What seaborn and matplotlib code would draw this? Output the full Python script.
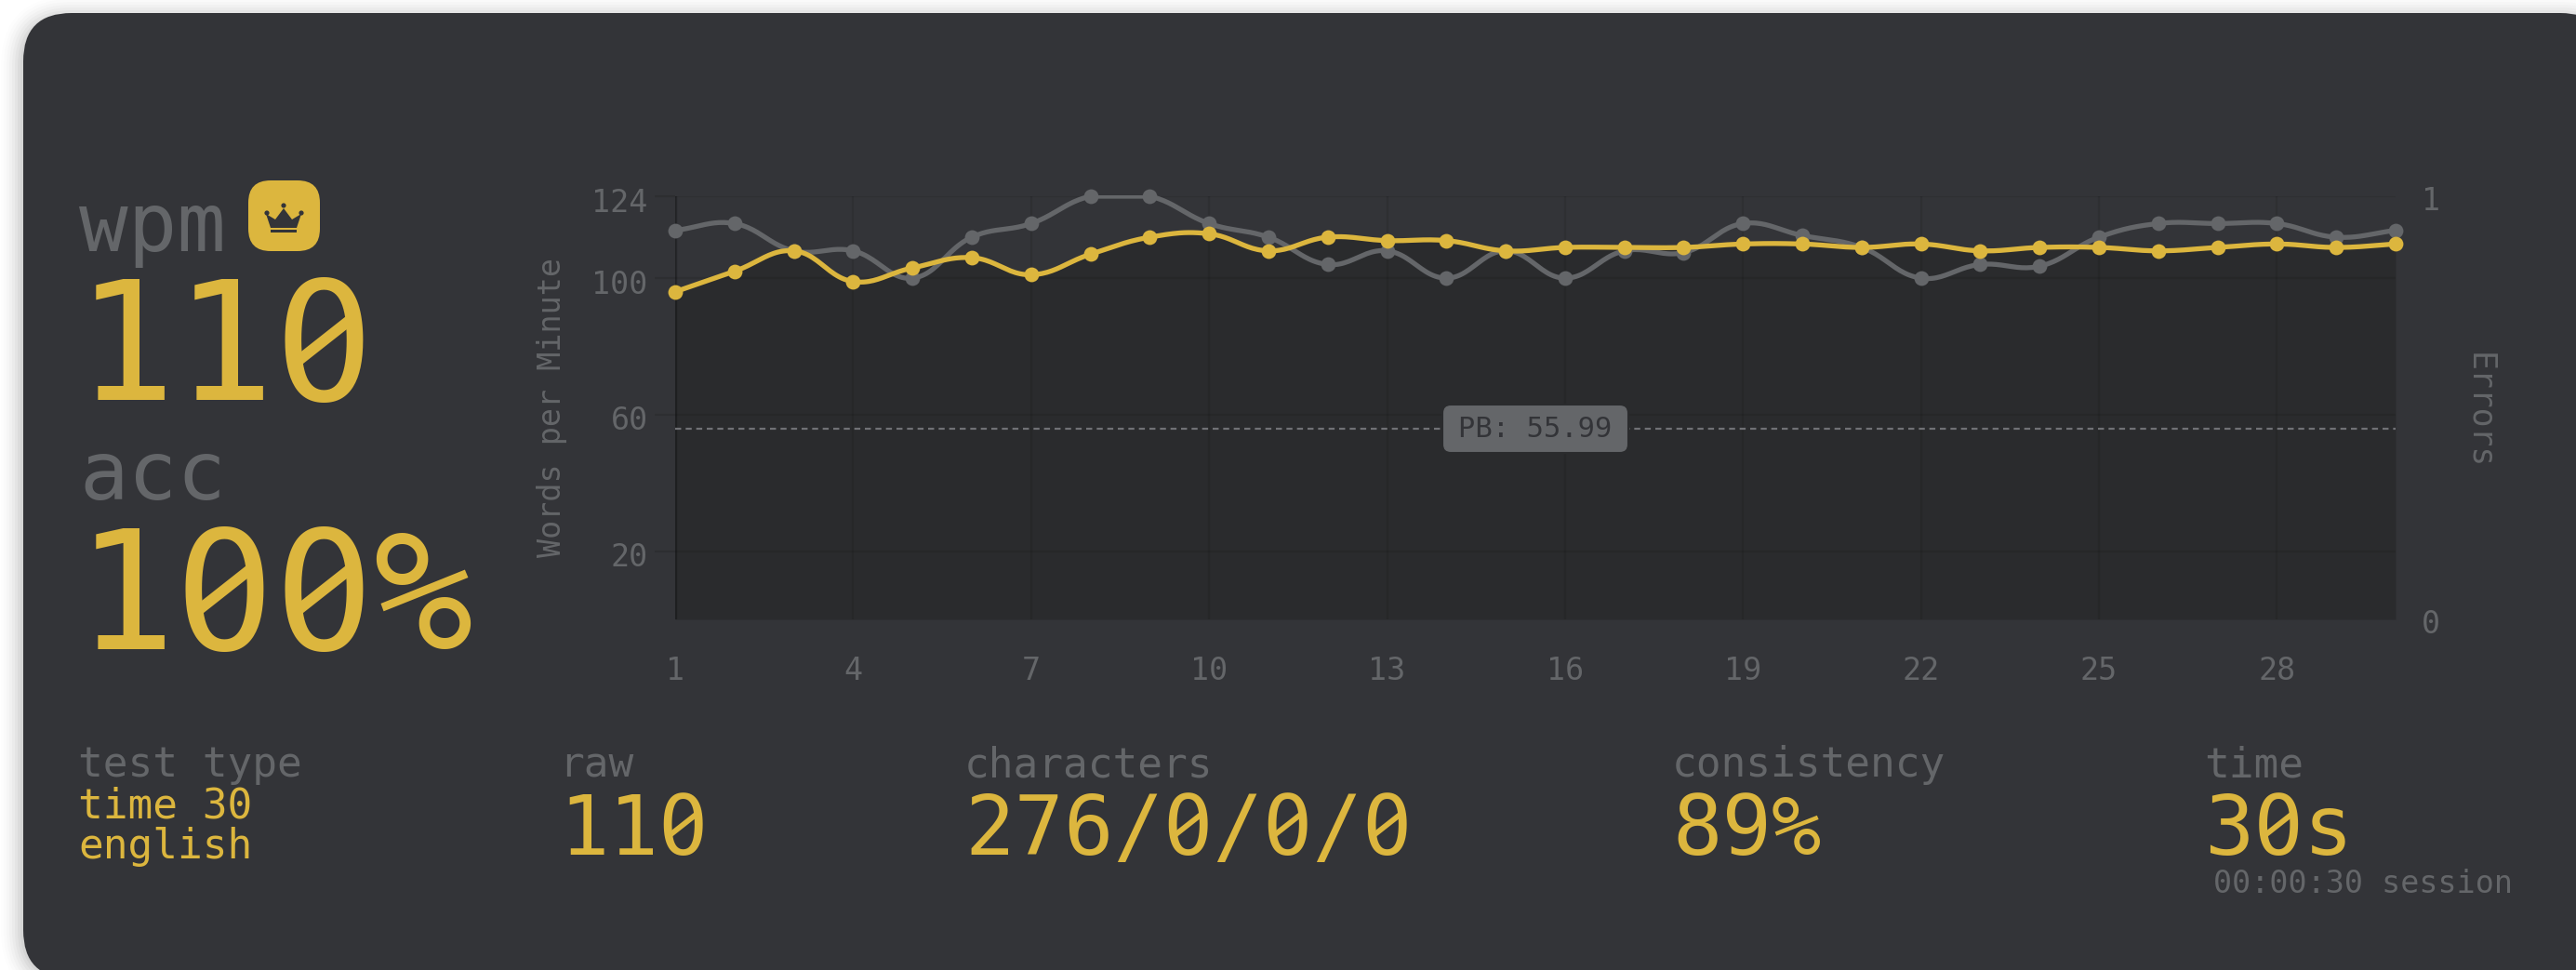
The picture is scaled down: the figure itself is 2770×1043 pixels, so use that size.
import numpy as np
import pandas as pd
import matplotlib
matplotlib.use("Agg")
import matplotlib.pyplot as plt
from matplotlib.patches import FancyBboxPatch, Polygon, Circle, Rectangle, Ellipse
from matplotlib.transforms import Bbox, ScaledTranslation
import seaborn as sns

seconds = list(range(1, 31))
raw_wpm = [114, 116, 108, 108, 100, 112, 116, 124, 124, 116, 112, 104, 108, 100, 108,
           100, 108, 107.5, 116, 112.5, 109, 100, 104, 103.5, 112, 116, 116, 116, 112, 114]
wpm = [96, 102, 108, 99, 103, 106, 101, 107, 112, 113, 108, 112, 111, 111, 108,
       109, 109, 109, 110, 110, 109, 110, 108, 109, 109, 108, 109, 110, 109, 110]
pb_value = 55.99
y_ticks = [20, 60, 100, 124]
x_ticks = list(range(1, 29, 3))

W, H = 2770, 1043
MONO = "DejaVu Sans Mono"
PANEL = "#333438"
PLOT = "#2a2b2d"
SUB = "#646669"
MAIN = "#dcb63e"

sns.set_theme(style="dark", rc={"font.family": MONO})
plt.rcParams["font.family"] = [MONO, "DejaVu Sans"]

fig = plt.figure(figsize=(W / 100, H / 100), dpi=100, facecolor="white")
bg = fig.add_axes([0, 0, 1, 1], zorder=0)
bg.set_xlim(0, W)
bg.set_ylim(H, 0)
bg.axis("off")


def rounded(ax, x0, y0, x1, y1, r, **kw):
    p = FancyBboxPatch((x0 + r, y0 + r), x1 - x0 - 2 * r, y1 - y0 - 2 * r,
                       boxstyle=f"round,pad={r},rounding_size={r}", **kw)
    ax.add_patch(p)
    return p


for grow, a in zip(range(24, 0, -3), np.linspace(0.006, 0.035, 8)):
    rounded(bg, 25 - grow, 20 - grow, 2805 + grow, 1052 + grow, 52 + grow,
            fc="black", ec="none", alpha=a)
rounded(bg, 25, 14, 2805, 1052, 52, fc=PANEL, ec="none")

PLOT_L, PLOT_R, PLOT_T, PLOT_B = 726, 2576, 211, 666
ax = fig.add_axes([PLOT_L / W, 1 - PLOT_B / H, (PLOT_R - PLOT_L) / W, (PLOT_B - PLOT_T) / H],
                  zorder=2)
ax.patch.set_alpha(0)
ax.set_xlim(1, 30)
ax.set_ylim(0, 124)
px = (PLOT_R - PLOT_L) / 29
py = (PLOT_B - PLOT_T) / 124


def smooth(xs, ys, tension=0.4, n=24, top=124):
    xs, ys = np.asarray(xs, float), np.asarray(ys, float)
    k = len(xs)
    out = ([], [])
    for i in range(k - 1):
        p = np.array([(xs[j] * px, ys[j] * py)
                      for j in (max(i - 1, 0), i, i + 1, min(i + 2, k - 1))])

        def cps(a, b, c):
            d1, d2 = np.hypot(*(b - a)), np.hypot(*(c - b))
            s1 = d1 / (d1 + d2) if d1 + d2 else 0
            s2 = d2 / (d1 + d2) if d1 + d2 else 0
            return b - tension * s1 * (c - a), b + tension * s2 * (c - a)
        _, c1 = cps(p[0], p[1], p[2])
        c2, _ = cps(p[1], p[2], p[3])
        c1[1] = min(c1[1], top * py)
        c2[1] = min(c2[1], top * py)
        t = np.linspace(0, 1, n, endpoint=i == k - 2)[:, None]
        q = (1 - t) ** 3 * p[1] + 3 * (1 - t) ** 2 * t * c1 + 3 * (1 - t) * t ** 2 * c2 + t ** 3 * p[2]
        out[0].extend(q[:, 0] / px)
        out[1].extend(q[:, 1] / py)
    return np.array(out[0]), np.array(out[1])


rx, ry = smooth(seconds, raw_wpm)
wx, wy = smooth(seconds, wpm)

ax.fill_between(wx, 0, wy, color=PLOT, lw=0, zorder=1)

for v in y_ticks:
    ax.axhline(v, color="black", alpha=0.09, lw=1.6, zorder=1.5)
for v in x_ticks:
    ax.axvline(v, color="black", alpha=0.09, lw=1.6, zorder=1.5)
ax.axvline(1, color="black", alpha=0.25, lw=2.4, zorder=1.5)

ax.axhline(pb_value, color="#707175", lw=1.6, ls=(0, (2.9, 2.2)), zorder=2)

LW = 3.8
MS = 130
sns.lineplot(data=pd.DataFrame({"s": rx, "v": ry}), x="s", y="v", ax=ax, color=SUB, lw=LW,
             estimator=None, sort=False, zorder=3)
sns.scatterplot(data=pd.DataFrame({"s": seconds, "v": raw_wpm}), x="s", y="v", ax=ax, color=SUB,
                s=MS, linewidth=0, zorder=3, clip_on=False)
sns.lineplot(data=pd.DataFrame({"s": wx, "v": wy}), x="s", y="v", ax=ax, color=MAIN, lw=LW,
             estimator=None, sort=False, zorder=4)
sns.scatterplot(data=pd.DataFrame({"s": seconds, "v": wpm}), x="s", y="v", ax=ax, color=MAIN,
                s=MS, linewidth=0, zorder=4, clip_on=False)
# keep the curve that runs along the top edge visible, as a thin clipped stroke
for line in ax.lines:
    if line.get_zorder() >= 3:
        line.set_clip_box(Bbox.from_extents(PLOT_L - 4, H - PLOT_B, PLOT_R + 4, H - PLOT_T + 0.8))

ax.set_xlabel("")
ax.set_ylabel("")
for s in ax.spines.values():
    s.set_visible(False)
ax.set_xticks(x_ticks)
ax.set_yticks(y_ticks)
ax.tick_params(axis="x", length=20, width=1.6, color="#2d2e31", labelcolor=SUB, labelsize=24, pad=8)
ax.tick_params(axis="y", length=16, width=1.6, color="#2d2e31", labelcolor=SUB, labelsize=24, pad=5)
ax.grid(False)
down = ScaledTranslation(0, -3.5 / 100, fig.dpi_scale_trans)
for t in ax.get_yticklabels():
    t.set_transform(t.get_transform() + down)

ax2 = ax.twinx()
ax2.patch.set_alpha(0)
ax2.set_ylim(0, 1)
ax2.set_yticks([0, 1])
ax2.tick_params(axis="y", length=0, labelcolor=SUB, labelsize=24, pad=20)
ax2.grid(False)
for s in ax2.spines.values():
    s.set_visible(False)
down2 = ScaledTranslation(0, -2 / 100, fig.dpi_scale_trans)
for t in ax2.get_yticklabels():
    t.set_transform(t.get_transform() + down2)

ov = fig.add_axes([0, 0, 1, 1], zorder=5)
ov.set_xlim(0, W)
ov.set_ylim(H, 0)
ov.axis("off")
ov.patch.set_alpha(0)


def label(x, y, s, size, color, slash=False, **kw):
    ov.text(x, y, s, fontsize=size, color=color, va="baseline", ha="left", zorder=3, **kw)
    if not slash:
        return
    # the reference face has a slashed zero; turn the dotted zero into one
    em = size * 100 / 72
    adv = 0.602 * em
    for i, ch in enumerate(s):
        if ch != "0":
            continue
        cx, cy = x + (i + 0.5) * adv, y - 0.365 * em
        ov.add_patch(Ellipse((cx, cy), 0.2 * em, 0.42 * em, fc=PANEL, ec="none", zorder=4))
        ov.plot([cx - 0.165 * em, cx + 0.165 * em], [cy + 0.13 * em, cy - 0.13 * em],
                color=color, lw=0.052 * size * 1.25, solid_capstyle="butt", zorder=5)


ov.text(594, 438, "Words per Minute", rotation=90, fontsize=24, color=SUB, ha="center", va="center")
ov.text(2666, 442, "Errors", rotation=270, fontsize=25, color=SUB, ha="center", va="center")

rounded(ov, 1551, 435, 1751, 487, 9, fc=SUB, ec=PLOT, lw=1.5)
ov.text(1651, 461, f"PB: {pb_value}", fontsize=22, color=PANEL, ha="center", va="center")

label(85, 270, "wpm", 63, SUB)
label(82, 430, "110", 128, MAIN, slash=True)
label(85, 537, "acc", 63, SUB)
label(82, 698, "100%", 128, MAIN, slash=True)

rounded(ov, 267, 194, 344, 270, 24, fc=MAIN, ec="none")
ov.add_patch(Polygon([(291, 245), (286, 230), (296, 236), (305, 224), (314, 236), (324, 230), (319, 245)],
                     fc=PANEL, ec="none"))
for c in [(287, 229), (305, 221), (324, 229)]:
    ov.add_patch(Circle(c, 2.6, fc=PANEL, ec="none"))
ov.add_patch(Rectangle((291, 246.5), 28, 3, fc=PANEL, ec="none"))

label(84, 835, "test type", 32, SUB)
label(84, 879, "time 30", 32, MAIN)
label(84, 923, "english", 32, MAIN)
label(601, 835, "raw", 32, SUB)
label(601, 919, "110", 64, MAIN, slash=True)
label(1037, 835, "characters", 32, SUB)
label(1037, 919, "276/0/0/0", 64, MAIN, slash=True)
label(1798, 835, "consistency", 32, SUB)
label(1798, 919, "89%", 64, MAIN)
label(2370, 835, "time", 32, SUB)
label(2370, 919, "30s", 64, MAIN, slash=True)
label(2380, 960, "00:00:30 session", 24, SUB)

ov.set_xlim(0, W)
ov.set_ylim(H, 0)
fig.savefig("out.png", dpi=100, facecolor="white")
